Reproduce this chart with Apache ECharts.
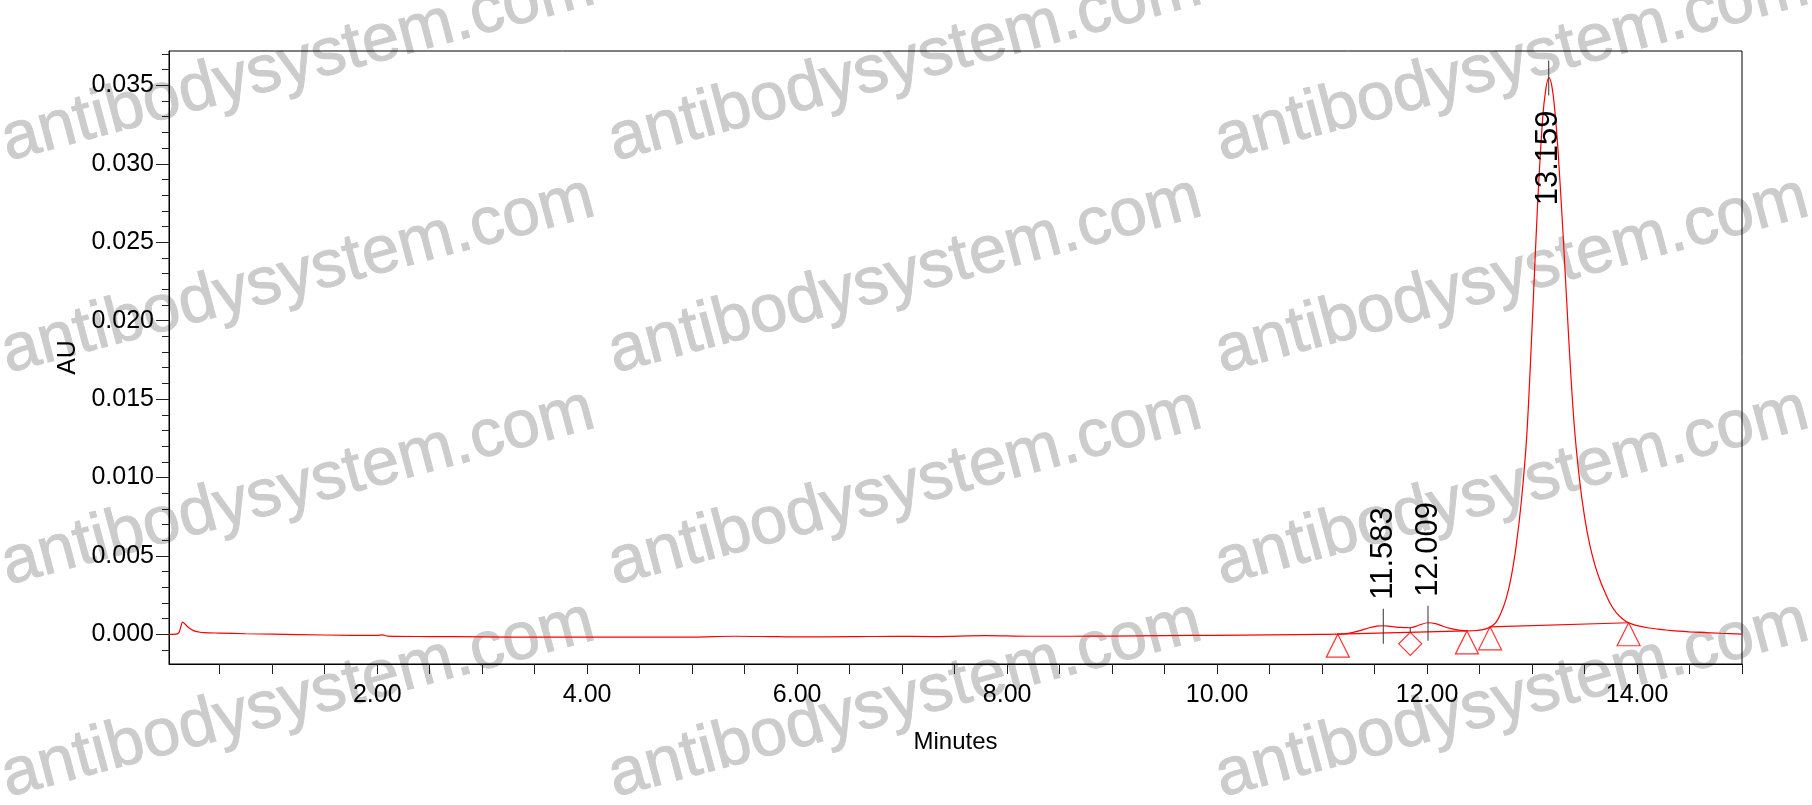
<!DOCTYPE html>
<html>
<head>
<meta charset="utf-8">
<script src="https://cdn.jsdelivr.net/npm/echarts@6/dist/echarts.min.js"></script>
<style>
html,body{margin:0;padding:0;background:#fff;}
#chart{width:1812px;height:805px;}
</style>
</head>
<body>
<div id="chart"></div>
<script>
// ---- data (minutes, AU) ----
const traceTimes = [0.017,0.08,0.11,0.13,0.146,0.17,0.20,0.25,0.30,0.35,0.50,0.75,1.00,1.50,2.00,2.05,2.10,2.50,3.00,3.50,4.00,4.50,5.00,5.40,5.80,6.00,6.50,6.90,7.30,7.80,8.20,8.60,9.00,9.50,10.00,10.50,11.00,11.15,11.25,11.35,11.45,11.52,11.58,11.65,11.75,11.84,11.92,12.01,12.08,12.15,12.22,12.30,12.38,12.45,12.52,12.58,12.62,12.66,12.70,12.75,12.80,12.85,12.90,12.95,13.00,13.05,13.10,13.13,13.16,13.19,13.22,13.25,13.30,13.35,13.40,13.45,13.50,13.55,13.60,13.65,13.70,13.75,13.80,13.86,13.92,14.00,14.10,14.20,14.30,14.40,14.50,14.60,14.80,15.00];
const traceValues = [0.00000,0.00002,0.00010,0.00050,0.00078,0.00065,0.00045,0.00024,0.00015,0.00011,0.00008,0.00004,0.00001,-0.00004,-0.00007,-0.00003,-0.00011,-0.00014,-0.00016,-0.00018,-0.00018,-0.00018,-0.00018,-0.00012,-0.00015,-0.00016,-0.00015,-0.00012,-0.00014,-0.00008,-0.00012,-0.00012,-0.00011,-0.00008,-0.00006,-0.00003,0.00000,0.00001,0.00006,0.00022,0.00042,0.00052,0.00055,0.00051,0.00044,0.00042,0.00058,0.00074,0.00068,0.00052,0.00038,0.00027,0.00022,0.00023,0.00029,0.00040,0.00055,0.00080,0.00130,0.00220,0.00360,0.00570,0.00860,0.01270,0.01950,0.02700,0.03280,0.03470,0.03550,0.03490,0.03320,0.03060,0.02500,0.01880,0.01350,0.01000,0.00750,0.00570,0.00440,0.00340,0.00260,0.00190,0.00140,0.00100,0.00074,0.00056,0.00042,0.00033,0.00026,0.00020,0.00016,0.00013,0.00007,0.00002];

const peakTimes = [11.583, 12.009, 13.159];
const peakHeights = [0.00055, 0.00074, 0.03550];
const peakLabels = ['11.583', '12.009', '13.159'];

const baselineA = [[11.15, 0.00001], [12.38, 0.00022]];
const baselineB = [[12.60, 0.00048], [13.92, 0.00074]];
const triangleMarks = [[11.15, 0.00001], [12.38, 0.00022], [12.60, 0.00048], [13.92, 0.00074]];
const diamondMarks = [[11.84, 0.00013]];
const dropLines = [[11.84, 0.00042, 0.00013]];

const xMin = 1 / 60, xMax = 15;
const yMin = -0.00189, yMax = 0.03719;
const xTickValues = [];
for (let v = 0.5; v <= 15.0001; v += 0.5) xTickValues.push(+v.toFixed(1));
const xLabelValues = [2, 4, 6, 8, 10, 12, 14];
const yMajorValues = [0, 0.005, 0.010, 0.015, 0.020, 0.025, 0.030, 0.035];
const yMinorValues = [-0.001,0.001,0.002,0.003,0.004,0.006,0.007,0.008,0.009,0.011,0.012,0.013,0.014,0.016,0.017,0.018,0.019,0.021,0.022,0.023,0.024,0.026,0.027,0.028,0.029,0.031,0.032,0.033,0.034,0.036,0.037];
const watermarkText = 'antibodysystem.com';

// ---- chart ----
const FONT = '"Liberation Sans", Arial, sans-serif';
const chart = echarts.init(document.getElementById('chart'), null, {renderer: 'canvas'});
const trace = traceTimes.map((t, i) => [t, traceValues[i]]);

const wm = [];
const wmCols = [298, 905, 1512];
const wmRows = [64, 276, 488, 700];
wmRows.forEach(y => wmCols.forEach(x => {
  wm.push({
    type: 'text', x: x, y: y, rotation: 15 * Math.PI / 180, z: -10, silent: true,
    style: {text: watermarkText, fill: '#cccccc', font: '67px ' + FONT,
            textAlign: 'center', textVerticalAlign: 'middle', stroke: '#cccccc', lineWidth: 1}
  });
}));

const axisCommonY = {
  type: 'value', min: yMin, max: yMax, position: 'left',
  splitLine: {show: false}
};

chart.setOption({
  animation: false,
  backgroundColor: '#fff',
  graphic: wm,
  grid: {left: 169, right: 70, top: 51, bottom: 141, show: true, borderColor: '#000', borderWidth: 1, backgroundColor: 'transparent'},
  xAxis: {
    type: 'value', min: xMin, max: xMax,
    name: 'Minutes', nameLocation: 'middle', nameGap: 66,
    nameTextStyle: {fontFamily: FONT, fontSize: 24, color: '#000'},
    axisLine: {show: true, onZero: false, lineStyle: {color: '#000', width: 1}},
    axisTick: {show: true, inside: false, length: 10, customValues: xTickValues, lineStyle: {color: '#222'}},
    axisLabel: {show: true, customValues: xLabelValues, margin: 19, fontFamily: FONT, fontSize: 25, color: '#000',
                formatter: v => v.toFixed(2)},
    splitLine: {show: false}
  },
  yAxis: [
    Object.assign({}, axisCommonY, {
      name: 'AU', nameLocation: 'middle', nameGap: 88, nameRotate: 90,
      nameTextStyle: {fontFamily: FONT, fontSize: 25, color: '#000'},
      axisLine: {show: true, onZero: false, lineStyle: {color: '#000', width: 1}},
      axisTick: {show: true, inside: false, length: 13, customValues: yMajorValues, lineStyle: {color: '#222'}},
      axisLabel: {show: true, customValues: yMajorValues, margin: 15, fontFamily: FONT, fontSize: 25, color: '#000',
                  formatter: v => v.toFixed(3)}
    }),
    Object.assign({}, axisCommonY, {
      axisLine: {show: false},
      axisTick: {show: true, inside: false, length: 7, customValues: yMinorValues, lineStyle: {color: '#222'}},
      axisLabel: {show: false}
    })
  ],
  series: [
    {
      type: 'line', data: trace, showSymbol: false, smooth: 0.35, clip: true,
      lineStyle: {color: '#ff0000', width: 1.2}, z: 3
    },
    {type: 'line', data: baselineA, showSymbol: false, lineStyle: {color: '#ff0000', width: 1.2}, z: 3},
    {type: 'line', data: baselineB, showSymbol: false, lineStyle: {color: '#ff0000', width: 1.2}, z: 3},
    {
      type: 'scatter', data: triangleMarks, symbol: 'triangle', symbolSize: [23, 23], symbolOffset: [0, '50%'],
      itemStyle: {color: 'rgba(0,0,0,0)', borderColor: '#ff0000', borderWidth: 1.2}, z: 4, silent: true
    },
    {
      type: 'scatter', data: diamondMarks, symbol: 'diamond', symbolSize: [23, 23], symbolOffset: [0, '50%'],
      itemStyle: {color: 'rgba(0,0,0,0)', borderColor: '#ff0000', borderWidth: 1.2}, z: 4, silent: true
    },
    {
      type: 'custom', z: 5, silent: true,
      data: dropLines,
      renderItem: function (params, api) {
        const a = api.coord([api.value(0), api.value(1)]);
        const b = api.coord([api.value(0), api.value(2)]);
        return {type: 'line', shape: {x1: a[0], y1: a[1], x2: b[0], y2: b[1]}, style: {stroke: '#333', lineWidth: 1}};
      }
    },
    {
      type: 'custom', z: 5, silent: true,
      data: peakTimes.map((t, i) => [t, peakHeights[i], i]),
      renderItem: function (params, api) {
        const p = api.coord([api.value(0), api.value(1)]);
        const i = api.value(2);
        const top = p[1] - 17, bottom = p[1] + 18;
        const gridTop = params.coordSys.y;
        const above = top - 110 > gridTop;
        return {
          type: 'group',
          children: [
            {type: 'line', shape: {x1: p[0], y1: top, x2: p[0], y2: bottom}, style: {stroke: '#333', lineWidth: 1}},
            {
              type: 'text', x: p[0], y: above ? top - 9 : bottom + 15, rotation: Math.PI / 2,
              style: {text: peakLabels[i], font: '31px ' + FONT, fill: '#000',
                      textAlign: above ? 'left' : 'right', textVerticalAlign: 'middle'}
            }
          ]
        };
      }
    }
  ]
});
</script>
</body>
</html>
